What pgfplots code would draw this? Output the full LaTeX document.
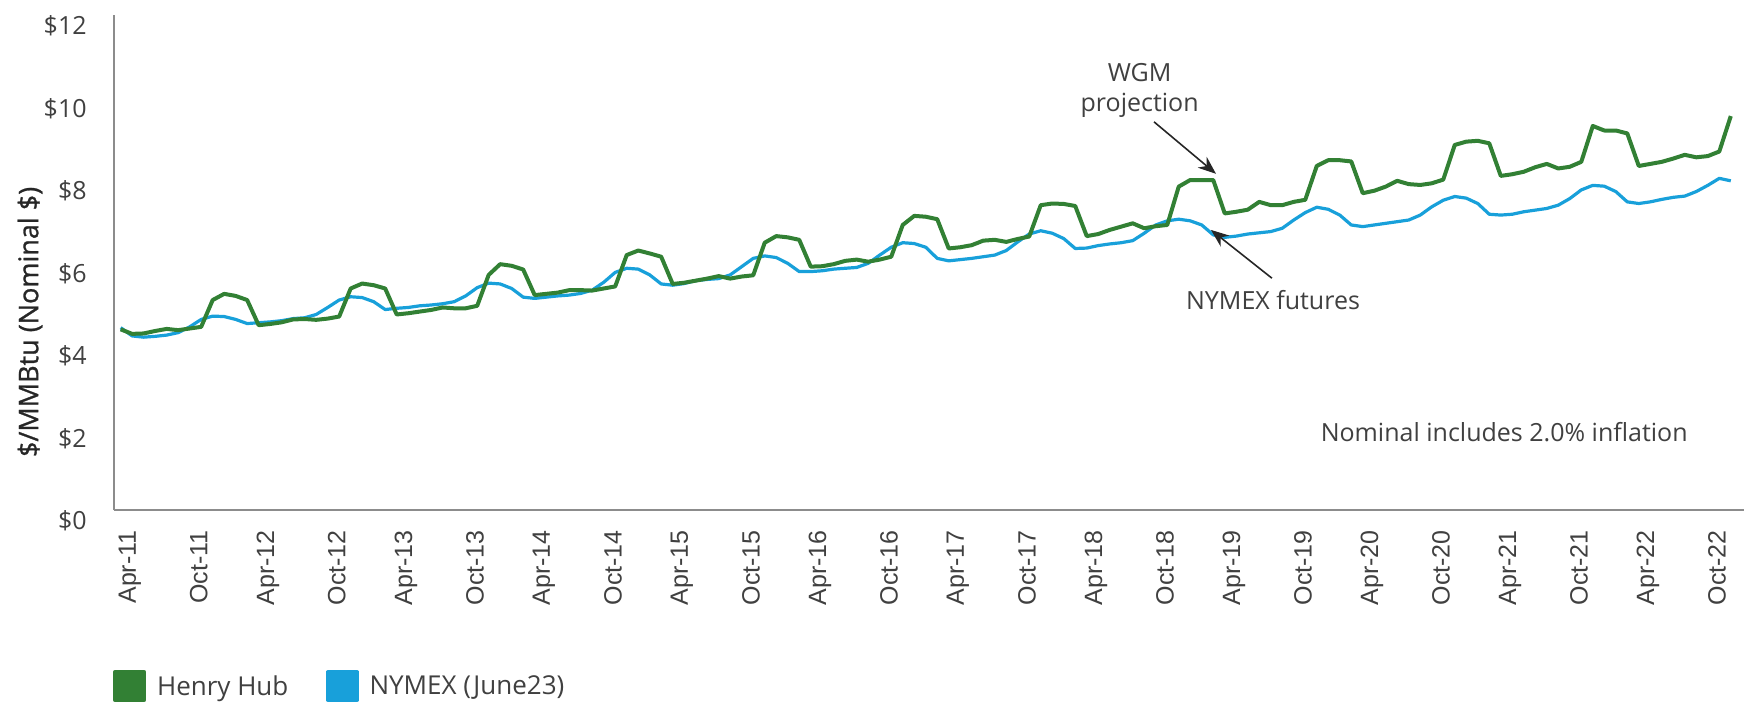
\documentclass[border=0pt]{standalone}
\usepackage{fontspec}
\setmainfont{Open Sans}
\newfontfamily\arialfont{Liberation Sans}
\newfontfamily\titlefont{Open Sans}[FakeBold=1]
\usepackage{pgfplots}
\pgfplotsset{compat=1.18}
\usepackage{pgfplotstable}
\usetikzlibrary{arrows.meta}

\definecolor{hhgreen}{RGB}{50,128,52}
\definecolor{nyblue}{RGB}{24,160,218}
\definecolor{axisgray}{RGB}{140,140,140}
\definecolor{txtgray}{RGB}{64,64,64}

% monthly index: 0 = Apr-11 ... 140 = Dec-22
\pgfplotstableread{
i hh ny
0 4.38 4.42
1 4.27 4.22
2 4.28 4.19
3 4.34 4.21
4 4.39 4.24
5 4.36 4.30
6 4.40 4.44
7 4.44 4.62
8 5.09 4.70
9 5.24 4.69
10 5.19 4.62
11 5.09 4.52
12 4.48 4.54
13 4.51 4.56
14 4.55 4.59
15 4.62 4.64
16 4.63 4.66
17 4.61 4.74
18 4.64 4.91
19 4.69 5.09
20 5.37 5.17
21 5.49 5.15
22 5.45 5.05
23 5.37 4.86
24 4.74 4.89
25 4.77 4.91
26 4.81 4.95
27 4.85 4.97
28 4.91 5.00
29 4.89 5.05
30 4.89 5.19
31 4.95 5.39
32 5.70 5.50
33 5.96 5.48
34 5.92 5.37
35 5.83 5.16
36 5.21 5.13
37 5.24 5.16
38 5.27 5.19
39 5.33 5.21
40 5.33 5.25
41 5.32 5.33
42 5.37 5.52
43 5.42 5.76
44 6.18 5.86
45 6.29 5.84
46 6.22 5.70
47 6.14 5.48
48 5.48 5.45
49 5.51 5.49
50 5.56 5.56
51 5.61 5.59
52 5.67 5.61
53 5.61 5.70
54 5.66 5.90
55 5.69 6.10
56 6.48 6.16
57 6.64 6.12
58 6.61 5.98
59 6.55 5.78
60 5.90 5.78
61 5.91 5.80
62 5.96 5.84
63 6.04 5.86
64 6.07 5.88
65 6.02 5.98
66 6.07 6.18
67 6.14 6.37
68 6.91 6.48
69 7.13 6.46
70 7.11 6.37
71 7.05 6.10
72 6.34 6.04
73 6.37 6.07
74 6.42 6.10
75 6.53 6.14
76 6.55 6.18
77 6.50 6.29
78 6.57 6.50
79 6.63 6.69
80 7.39 6.77
81 7.43 6.71
82 7.42 6.58
83 7.37 6.34
84 6.64 6.35
85 6.69 6.41
86 6.79 6.45
87 6.87 6.48
88 6.95 6.53
89 6.83 6.71
90 6.88 6.91
91 6.91 7.01
92 7.84 7.05
93 8.00 7.01
94 8.00 6.91
95 8.00 6.67
96 7.19 6.61
97 7.23 6.64
98 7.28 6.69
99 7.47 6.72
100 7.39 6.75
101 7.39 6.83
102 7.47 7.03
103 7.52 7.21
104 8.34 7.34
105 8.48 7.29
106 8.48 7.15
107 8.45 6.91
108 7.68 6.87
109 7.74 6.91
110 7.84 6.95
111 7.98 6.99
112 7.90 7.03
113 7.88 7.15
114 7.92 7.35
115 8.01 7.51
116 8.85 7.60
117 8.93 7.56
118 8.95 7.43
119 8.89 7.17
120 8.10 7.15
121 8.14 7.17
122 8.20 7.23
123 8.31 7.27
124 8.39 7.31
125 8.28 7.39
126 8.32 7.55
127 8.44 7.76
128 9.31 7.87
129 9.20 7.85
130 9.20 7.72
131 9.13 7.47
132 8.34 7.43
133 8.39 7.47
134 8.44 7.53
135 8.52 7.58
136 8.61 7.61
137 8.55 7.72
138 8.58 7.87
139 8.69 8.04
140 9.55 7.98
}\prices

\newcommand{\lbl}{\fontsize{12.5}{15}\selectfont}

\begin{document}
\begin{tikzpicture}
\path[use as bounding box] (-57pt,-96.5pt) rectangle (815pt,255pt);
\begin{axis}[
  at={(0pt,0pt)}, anchor=south west,
  scale only axis, width=815pt, height=247.5pt,
  xmin=-0.58, xmax=141.15, ymin=0, ymax=12,
  axis lines=left,
  axis line style={-, draw=axisgray, line width=0.8pt},
  major tick length=0pt,
  ytick={0,2,4,6,8,10,12},
  yticklabels={\$0,\$2,\$4,\$6,\$8,\$10,\$12},
  yticklabel style={font=\lbl, text=txtgray, anchor=east, inner sep=0pt, yshift=-5.5pt},
  yticklabel shift=13.5pt,
  xtick={0.8,6.8,12.8,18.8,24.8,30.8,36.8,42.8,48.8,54.8,60.8,66.8,72.8,78.8,84.8,90.8,96.8,102.8,108.8,114.8,120.8,126.8,132.8,138.8},
  xticklabels={Apr-11,Oct-11,Apr-12,Oct-12,Apr-13,Oct-13,Apr-14,Oct-14,Apr-15,Oct-15,Apr-16,Oct-16,Apr-17,Oct-17,Apr-18,Oct-18,Apr-19,Oct-19,Apr-20,Oct-20,Apr-21,Oct-21,Apr-22,Oct-22},
  xticklabel style={font=\arialfont\lbl, text=txtgray, rotate=90, anchor=east, inner sep=0pt},
  xticklabel shift=10pt,
  ylabel={\$/MMBtu (Nominal \$)},
  ylabel style={at={(axis description cs:-0.0515,0.38)}, anchor=center, font=\titlefont\fontsize{13.5}{16}\selectfont, text=black!85},
  legend style={at={(axis description cs:-0.0008,-0.3556)}, anchor=west, draw=none, fill=none,
    font=\fontsize{13}{15}\selectfont, text=txtgray, legend columns=2, inner sep=0pt,
    nodes={inner sep=0pt},
    /tikz/every even column/.append style={column sep=19pt}},
  legend cell align=left,
  reverse legend,
]
\addplot[nyblue, line width=1.6pt, line join=round,
  legend image code/.code={\fill[nyblue] (0pt,-6.7pt) rectangle (14.5pt,7.5pt); \path (20pt,0pt);}]
  table[x=i, y=ny] {\prices};
\addlegendentry{NYMEX (June23)}
\addplot[hhgreen, line width=2pt, line join=round,
  legend image code/.code={\fill[hhgreen] (0pt,-6.7pt) rectangle (14.5pt,7.5pt); \path (20pt,0pt);}]
  table[x=i, y=hh] {\prices};
\addlegendentry{Henry Hub}

\node[font=\lbl, text=txtgray, align=center] at (axis cs:88.6,10.18) {WGM\\projection};
\draw[-{Stealth[length=9pt,width=7pt]}, line width=0.8pt, black!85] (axis cs:89.85,9.41) -- (axis cs:95.24,8.15);
\node[font=\lbl, text=txtgray] at (axis cs:100.2,5.09) {NYMEX futures};
\draw[-{Stealth[length=9pt,width=7pt]}, line width=0.8pt, black!85] (axis cs:100.1,5.62) -- (axis cs:94.8,6.79);
\node[font=\lbl, text=txtgray] at (axis cs:120.3,1.89) {Nominal includes 2.0\% inflation};
\end{axis}
\end{tikzpicture}
\end{document}
